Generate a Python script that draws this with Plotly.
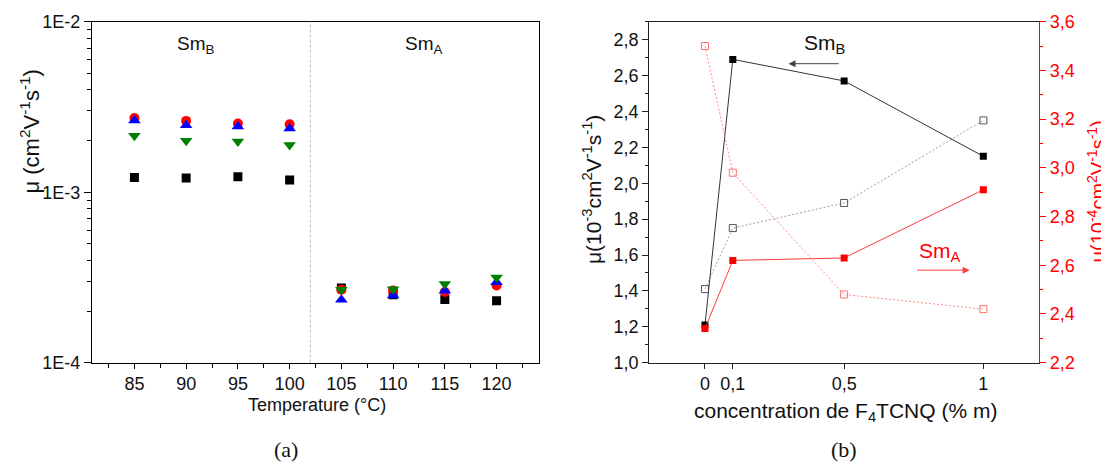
import plotly.graph_objects as go

# ---------------- Panel (a): mobility vs temperature ----------------
temps = [85, 90, 95, 100, 105, 110, 115, 120]
mu_black = [1.22e-3, 1.21e-3, 1.23e-3, 1.18e-3, 2.74e-4, 2.50e-4, 2.35e-4, 2.31e-4]
mu_red = [2.72e-3, 2.62e-3, 2.53e-3, 2.50e-3, 2.68e-4, 2.65e-4, 2.60e-4, 2.84e-4]
mu_blue = [2.63e-3, 2.47e-3, 2.43e-3, 2.36e-3, 2.34e-4, 2.48e-4, 2.64e-4, 2.96e-4]
mu_green = [2.14e-3, 2.00e-3, 1.98e-3, 1.89e-3, 2.68e-4, 2.70e-4, 2.89e-4, 3.16e-4]
phase_T = 102
temp_ticks = [85, 90, 95, 100, 105, 110, 115, 120]
log_ticks = [1e-4, 1e-3, 1e-2]
log_ticktext = ["1E-4", "1E-3", "1E-2"]

# ---------------- Panel (b): mobility vs F4TCNQ concentration ----------------
conc = [0, 0.1, 0.5, 1]
conc_ticktext = ["0", "0,1", "0,5", "1"]
smb_filled = [1.21, 2.69, 2.57, 2.15]   # left axis, 10^-3
smb_open = [1.41, 1.75, 1.89, 2.35]     # left axis, 10^-3
sma_filled = [2.34, 2.62, 2.63, 2.91]   # right axis, 10^-4
sma_open = [3.50, 2.98, 2.48, 2.42]     # right axis, 10^-4

SANS = "Liberation Sans, Arial, sans-serif"
SERIF = "Liberation Serif, Times New Roman, serif"

# the page body has an 8px margin: size the figure so that it fills the window exactly
OFF = 8
W, H = 1109 - OFF, 463 - OFF


def px(x):
    return (x - OFF) / W


def py(y):
    return 1 - (y - OFF) / H


fig = go.Figure()

# panel (a) traces
fig.add_trace(go.Scatter(x=temps, y=mu_black, mode="markers", xaxis="x", yaxis="y",
                         marker=dict(symbol="square", size=9, color="black"), showlegend=False))
fig.add_trace(go.Scatter(x=temps, y=mu_red, mode="markers", xaxis="x", yaxis="y",
                         marker=dict(symbol="circle", size=10, color="#ff0000"), showlegend=False))
fig.add_trace(go.Scatter(x=temps, y=mu_blue, mode="markers", xaxis="x", yaxis="y",
                         marker=dict(symbol="triangle-up", size=11, color="#0000ff"), showlegend=False))
fig.add_trace(go.Scatter(x=temps, y=mu_green, mode="markers", xaxis="x", yaxis="y",
                         marker=dict(symbol="triangle-down", size=11, color="#008000"), showlegend=False))

# panel (b) traces
fig.add_trace(go.Scatter(x=conc, y=smb_open, mode="lines+markers", xaxis="x2", yaxis="y3",
                         line=dict(color="#a0a0a0", width=1, dash="2px,2px"),
                         marker=dict(symbol="square-open", size=7, color="#555555", line=dict(width=1)),
                         showlegend=False))
fig.add_trace(go.Scatter(x=conc, y=sma_open, mode="lines+markers", xaxis="x2", yaxis="y4",
                         line=dict(color="#ff8a8a", width=1, dash="2px,2px"),
                         marker=dict(symbol="square-open", size=7, color="#ff7070", line=dict(width=1)),
                         showlegend=False))
fig.add_trace(go.Scatter(x=conc, y=smb_filled, mode="lines+markers", xaxis="x2", yaxis="y3",
                         line=dict(color="#333333", width=1),
                         marker=dict(symbol="square", size=7, color="black"),
                         showlegend=False))
fig.add_trace(go.Scatter(x=conc, y=sma_filled, mode="lines+markers", xaxis="x2", yaxis="y4",
                         line=dict(color="#ff3b3b", width=1),
                         marker=dict(symbol="square", size=7, color="#ff0000"),
                         showlegend=False))

ydom = [py(362.7), py(21.7)]
tickfont = dict(family=SANS, size=18, color="#111111")

fig.update_layout(
    width=W, height=H,
    margin=dict(l=0, r=0, t=0, b=0, pad=0, autoexpand=False),
    paper_bgcolor="white", plot_bgcolor="white",
    separators=", ",
    xaxis=dict(domain=[px(92), px(539)], range=[80.9, 124.1], tickmode="array", tickvals=temp_ticks,
               showline=True, linecolor="black", linewidth=1.2, mirror=True, automargin=False,
               ticks="outside", ticklen=5, tickcolor="black", tickfont=tickfont,
               minor=dict(ticks="outside", ticklen=4, dtick=2.5, tick0=80, tickcolor="black"),
               showgrid=False, zeroline=False),
    yaxis=dict(domain=ydom, type="log", range=[-4, -2], tickmode="array",
               tickvals=log_ticks, ticktext=log_ticktext, automargin=False,
               showline=True, linecolor="black", linewidth=1.2, mirror=True,
               ticks="outside", ticklen=7, tickcolor="black", tickfont=tickfont,
               minor=dict(ticks="outside", ticklen=4, tickcolor="black",
                          tickvals=[k * 10 ** e for e in (-4, -3) for k in range(2, 10)]),
               showgrid=False, zeroline=False),
    xaxis2=dict(domain=[px(649.3), px(1039)], range=[-0.2, 1.2], tickmode="array",
                tickvals=conc, ticktext=conc_ticktext, anchor="y3", automargin=False,
                showline=True, linecolor="#222222", linewidth=1.2, mirror=True,
                ticks="outside", ticklen=5, tickcolor="#222222", tickfont=tickfont,
                showgrid=False, zeroline=False),
    yaxis3=dict(domain=ydom, range=[1.0, 2.9], dtick=0.2, tick0=1.0, tickformat=".1f", anchor="x2",
                showline=True, linecolor="#222222", linewidth=1.2, automargin=False,
                ticks="outside", ticklen=6, tickcolor="#222222", tickfont=tickfont,
                minor=dict(ticks="outside", ticklen=3, dtick=0.1, tick0=1.0, tickcolor="#222222"),
                showgrid=False, zeroline=False),
    yaxis4=dict(domain=ydom, range=[2.2, 3.6], dtick=0.2, tick0=2.2, tickformat=".1f",
                overlaying="y3", side="right", anchor="x2", automargin=False,
                showline=True, linecolor="#ff0000", linewidth=1.2,
                ticks="outside", ticklen=6, tickcolor="#ff0000",
                tickfont=dict(family=SANS, size=18, color="#ff0000"),
                minor=dict(ticks="outside", ticklen=3, dtick=0.1, tick0=2.2, tickcolor="#ff0000"),
                showgrid=False, zeroline=False),
    shapes=[dict(type="line", xref="x", yref="y domain", x0=phase_T, x1=phase_T, y0=0, y1=1,
                 line=dict(color="#bdbdbd", width=1, dash="3px,2px"))],
)

ann = []


def txt(text, x, y, size, color="#111111", family=SANS, angle=0):
    ann.append(dict(text=text, x=px(x), y=py(y), xref="paper", yref="paper", showarrow=False,
                    xanchor="center", yanchor="middle", textangle=angle,
                    font=dict(family=family, size=size, color=color)))


# panel (a) texts
txt("Sm<sub>B</sub>", 196, 45, 19)
txt("Sm<sub>A</sub>", 424, 45, 19)
txt("Temperature (°C)", 317, 405, 18)
txt("μ (cm<sup>2</sup>V<sup>-1</sup>s<sup>-1</sup>)", 30, 131.5, 22, angle=-90)
txt("(a)", 285.6, 449, 22, family=SERIF)

# panel (b) texts
txt("Sm<sub>B</sub>", 824.7, 44, 21)
txt("Sm<sub>A</sub>", 940, 252, 21, color="#ff0000")
txt("concentration de F<sub>4</sub>TCNQ (% m)", 845, 412, 21)
txt("μ(10<sup>-3</sup>cm<sup>2</sup>V<sup>-1</sup>s<sup>-1</sup>)", 592, 190, 21, angle=-90)
txt("μ(10<sup>-4</sup>cm<sup>2</sup>V<sup>-1</sup>s<sup>-1</sup>)", 1096, 191.5, 20, color="#ff0000", angle=-90)
txt("(b)", 843.5, 449, 22, family=SERIF)

# arrows in panel (b)
ann.append(dict(text=" ", font=dict(size=1), x=0.30, y=2.666, xref="x2", yref="y3",
                ax=0.486, ay=2.666, axref="x2", ayref="y3", showarrow=True,
                arrowhead=2, arrowsize=1.4, arrowwidth=1, arrowcolor="#444444", standoff=0))
ann.append(dict(text=" ", font=dict(size=1), x=0.951, y=2.58, xref="x2", yref="y4",
                ax=0.7565, ay=2.58, axref="x2", ayref="y4", showarrow=True,
                arrowhead=2, arrowsize=1.4, arrowwidth=1, arrowcolor="#ff4040", standoff=0))

fig.update_layout(annotations=ann)
fig.write_html("out.html")
